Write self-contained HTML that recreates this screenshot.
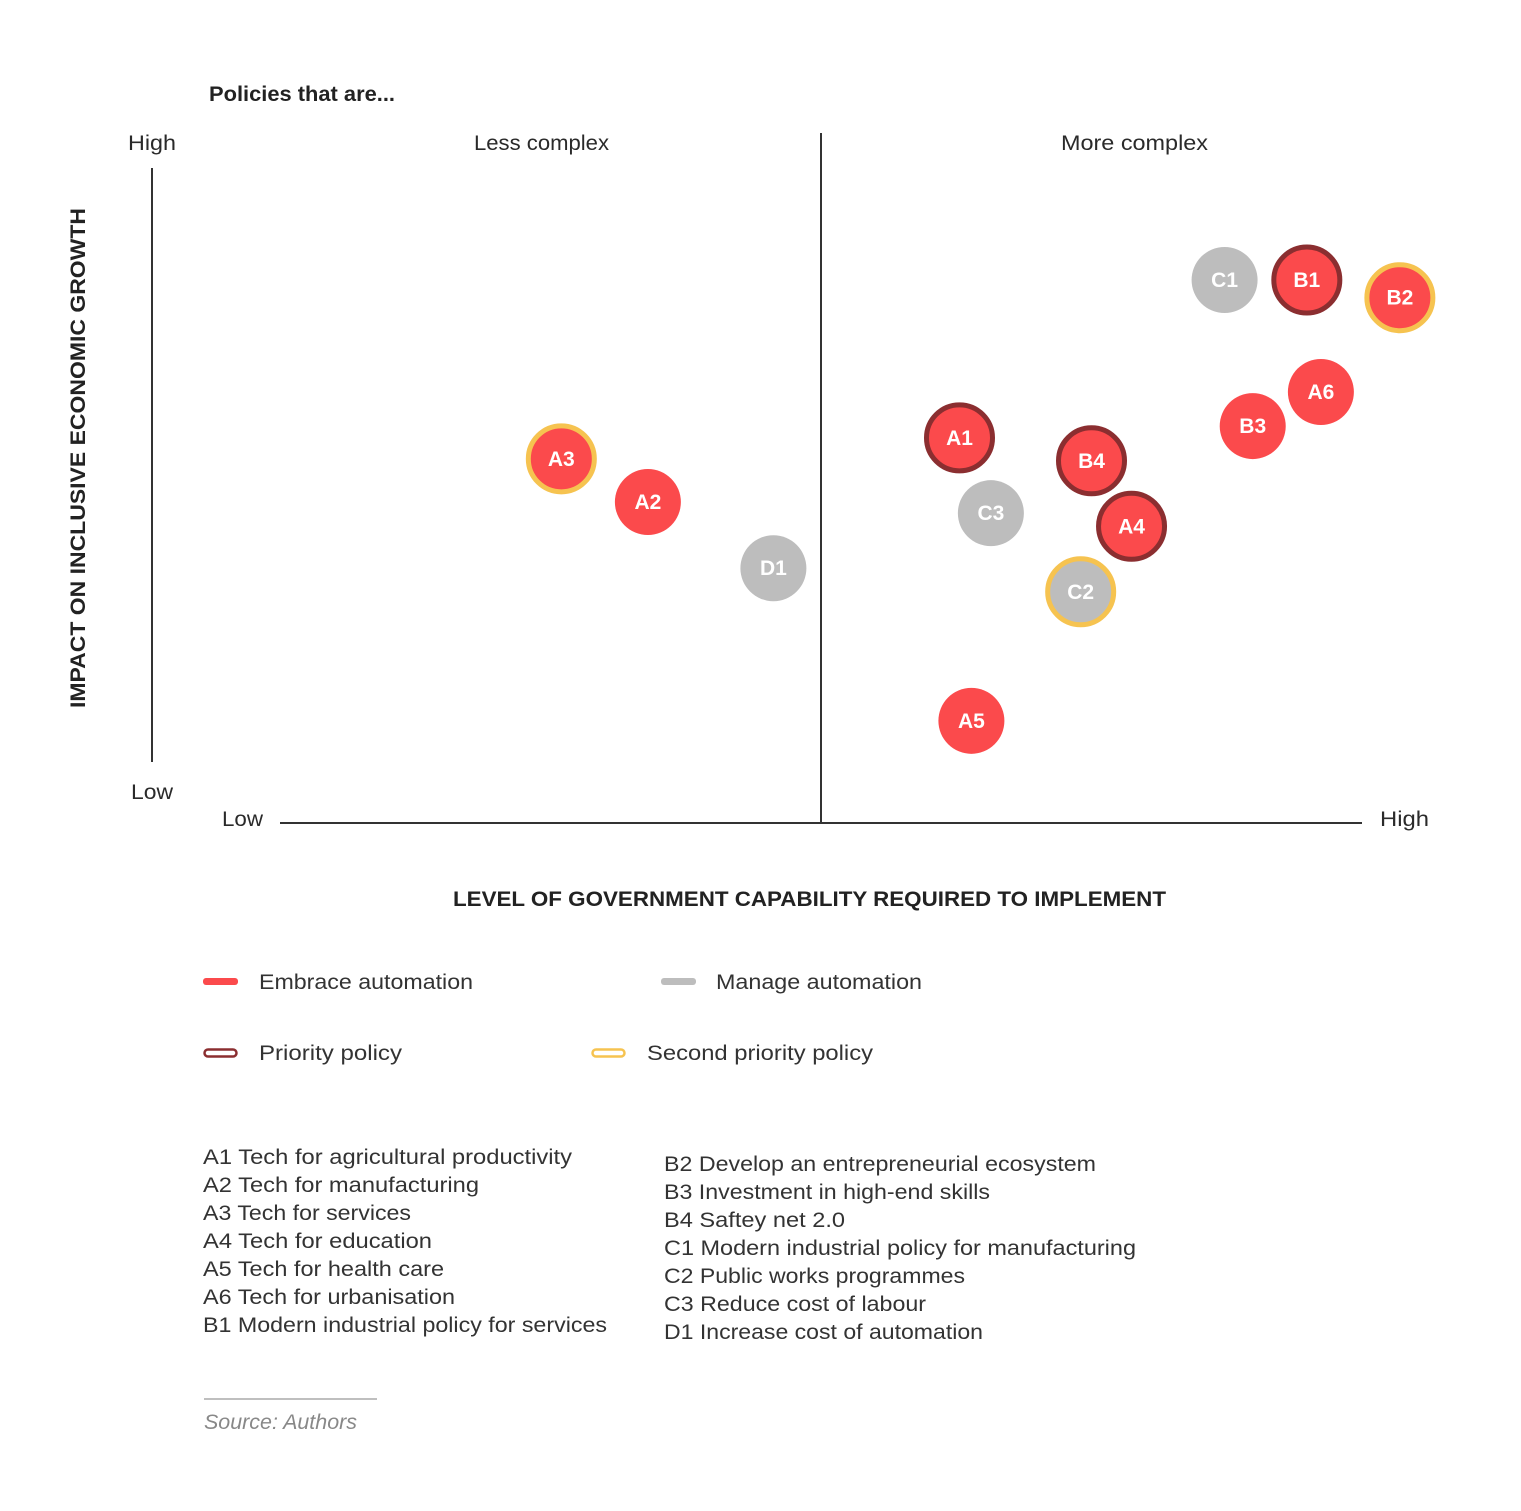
<!DOCTYPE html>
<html><head><meta charset="utf-8"><style>
html,body{margin:0;padding:0;background:#fff;}
svg{display:block;font-family:"Liberation Sans",sans-serif;}
</style></head><body>
<svg id="chart" width="1521" height="1511" viewBox="0 0 1521 1511" xmlns="http://www.w3.org/2000/svg">
<text x="209" y="101" font-size="21" font-weight="bold" fill="#222" textLength="186" lengthAdjust="spacingAndGlyphs">Policies that are...</text>
<text x="474" y="150" font-size="21" fill="#2a2a2a" textLength="135" lengthAdjust="spacingAndGlyphs">Less complex</text>
<text x="1061" y="150" font-size="21" fill="#2a2a2a" textLength="147" lengthAdjust="spacingAndGlyphs">More complex</text>
<text x="128" y="150" font-size="21" fill="#2a2a2a" textLength="48" lengthAdjust="spacingAndGlyphs">High</text>
<text x="131" y="799" font-size="21" fill="#2a2a2a" textLength="42" lengthAdjust="spacingAndGlyphs">Low</text>
<text x="222" y="826" font-size="21" fill="#2a2a2a" textLength="41" lengthAdjust="spacingAndGlyphs">Low</text>
<text x="1380" y="826" font-size="21" fill="#2a2a2a" textLength="49" lengthAdjust="spacingAndGlyphs">High</text>
<line x1="152" y1="168" x2="152" y2="762" stroke="#333" stroke-width="2"/>
<line x1="280" y1="823" x2="1362" y2="823" stroke="#333" stroke-width="2"/>
<line x1="821" y1="133" x2="821" y2="823" stroke="#333" stroke-width="2"/>
<text transform="translate(85,708) rotate(-90)" font-size="21" font-weight="bold" fill="#222" textLength="500" lengthAdjust="spacingAndGlyphs">IMPACT ON INCLUSIVE ECONOMIC GROWTH</text>
<text x="453" y="906" font-size="21" font-weight="bold" fill="#222" textLength="713" lengthAdjust="spacingAndGlyphs">LEVEL OF GOVERNMENT CAPABILITY REQUIRED TO IMPLEMENT</text>
<g id="marks"></g>

<rect x="203" y="978" width="35" height="7" rx="3" fill="#fb4a4c"/>
<text x="259" y="989" font-size="21" fill="#333" textLength="214" lengthAdjust="spacingAndGlyphs">Embrace automation</text>
<rect x="661" y="978" width="35" height="7" rx="3" fill="#bdbdbd"/>
<text x="716" y="989" font-size="21" fill="#333" textLength="206" lengthAdjust="spacingAndGlyphs">Manage automation</text>
<rect x="204.5" y="1049.5" width="32" height="7" rx="3.5" fill="none" stroke="#8b2e30" stroke-width="2.5"/>
<text x="259" y="1060" font-size="21" fill="#333" textLength="143" lengthAdjust="spacingAndGlyphs">Priority policy</text>
<rect x="592.5" y="1049.5" width="32" height="7" rx="3.5" fill="none" stroke="#f6c350" stroke-width="2.5"/>
<text x="647" y="1060" font-size="21" fill="#333" textLength="226" lengthAdjust="spacingAndGlyphs">Second priority policy</text>

<g font-size="21" fill="#333">
<text x="203" y="1164" textLength="369" lengthAdjust="spacingAndGlyphs">A1 Tech for agricultural productivity</text>
<text x="203" y="1192" textLength="276" lengthAdjust="spacingAndGlyphs">A2 Tech for manufacturing</text>
<text x="203" y="1220" textLength="208" lengthAdjust="spacingAndGlyphs">A3 Tech for services</text>
<text x="203" y="1248" textLength="229" lengthAdjust="spacingAndGlyphs">A4 Tech for education</text>
<text x="203" y="1276" textLength="241" lengthAdjust="spacingAndGlyphs">A5 Tech for health care</text>
<text x="203" y="1304" textLength="252" lengthAdjust="spacingAndGlyphs">A6 Tech for urbanisation</text>
<text x="203" y="1332" textLength="404" lengthAdjust="spacingAndGlyphs">B1 Modern industrial policy for services</text>
</g>
<g font-size="21" fill="#333">
<text x="664" y="1171" textLength="432" lengthAdjust="spacingAndGlyphs">B2 Develop an entrepreneurial ecosystem</text>
<text x="664" y="1199" textLength="326" lengthAdjust="spacingAndGlyphs">B3 Investment in high-end skills</text>
<text x="664" y="1227" textLength="181" lengthAdjust="spacingAndGlyphs">B4 Saftey net 2.0</text>
<text x="664" y="1255" textLength="472" lengthAdjust="spacingAndGlyphs">C1 Modern industrial policy for manufacturing</text>
<text x="664" y="1283" textLength="301" lengthAdjust="spacingAndGlyphs">C2 Public works programmes</text>
<text x="664" y="1311" textLength="262" lengthAdjust="spacingAndGlyphs">C3 Reduce cost of labour</text>
<text x="664" y="1339" textLength="319" lengthAdjust="spacingAndGlyphs">D1 Increase cost of automation</text>
</g>
<line x1="204" y1="1399" x2="377" y2="1399" stroke="#aaa" stroke-width="1.5"/>
<text x="204" y="1429" font-size="21" font-style="italic" fill="#888" textLength="153" lengthAdjust="spacingAndGlyphs">Source: Authors</text>
</svg>
<script>
const labels = ["C1","B1","B2","A6","B3","A1","B4","A3","A2","C3","A4","D1","C2","A5"];
const xValues = [87.3,94.9,103.5,96.2,89.9,62.8,75.0,26.0,34.0,65.7,78.7,45.6,74.0,63.9];
const yValues = [82.9,82.9,80.2,65.8,60.6,58.8,55.3,55.6,49.0,47.3,45.3,38.9,35.3,15.6];
const groups = ["manage","embrace","embrace","embrace","embrace","embrace","embrace","embrace","embrace","manage","embrace","manage","manage","embrace"];
const priorities = ["none","priority","second","none","none","priority","priority","second","none","none","priority","none","second","none"];

function xScale(v){ return 280 + v * 10.82; }
function yScale(v){ return 823 - v * 6.55; }
const NS = "http://www.w3.org/2000/svg";
const g = document.getElementById("marks");
const fills = {embrace:"#fb4a4c", manage:"#bdbdbd"};
const rings = {priority:"#8b2e30", second:"#f6c350"};
labels.forEach(function(lab, i){
  const cx = xScale(xValues[i]), cy = yScale(yValues[i]);
  const c = document.createElementNS(NS, "circle");
  
  
  c.setAttribute("cx", cx); c.setAttribute("cy", cy);
  if (priorities[i] !== "none") {
    c.setAttribute("r", 33);
    c.setAttribute("stroke", rings[priorities[i]]);
    c.setAttribute("stroke-width", 5);
  } else {
    c.setAttribute("r", 33);
  }
  c.setAttribute("fill", fills[groups[i]]);
  g.appendChild(c);
  const t = document.createElementNS(NS, "text");
  
  
  t.setAttribute("x", cx); t.setAttribute("y", cy + 7);
  t.setAttribute("text-anchor", "middle");
  t.setAttribute("font-size", "21");
  t.setAttribute("font-weight", "bold");
  t.setAttribute("fill", "#fff");
  t.textContent = lab;
  g.appendChild(t);
});
</script>
</body></html>
